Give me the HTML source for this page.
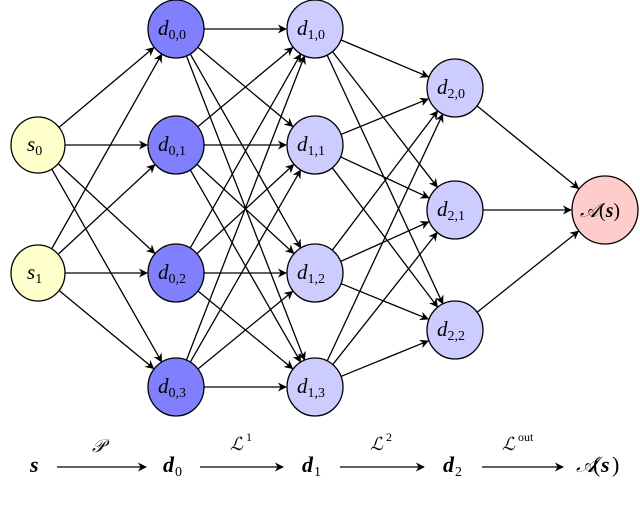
<!DOCTYPE html>
<html><head><meta charset="utf-8"><style>
html,body{margin:0;padding:0;background:#fff;width:640px;height:514px;overflow:hidden}
text{font-family:"Liberation Serif",serif;font-style:italic}
.n{font-style:normal}
</style></head><body>
<svg id="s" width="640" height="514" viewBox="0 0 640 514" xmlns="http://www.w3.org/2000/svg">
<defs><marker id="a" viewBox="0 0 10 10" refX="9" refY="5" markerWidth="9" markerHeight="9" markerUnits="userSpaceOnUse" orient="auto"><path d="M0,0 L10,5 L0,10 L3,5 Z" fill="#000"/></marker></defs>
<g id="e" stroke="#000" stroke-width="1.3" fill="none"></g>
<g id="n"></g>
<g font-size="22" fill="#000">
<text x="30" y="472" font-weight="bold">s</text>
<line x1="57" y1="467" x2="146" y2="467" stroke="#000" stroke-width="1.3" marker-end="url(#a)"/>
<text x="92" y="452" font-size="18">𝒫</text>
<text x="163" y="472" font-weight="bold">d</text><text x="175" y="476" font-size="14" class="n">0</text>
<line x1="200" y1="467" x2="283" y2="467" stroke="#000" stroke-width="1.3" marker-end="url(#a)"/>
<text x="230" y="450" font-size="18">ℒ</text><text x="246" y="441" font-size="12" class="n">1</text>
<text x="302" y="472" font-weight="bold">d</text><text x="314" y="476" font-size="14" class="n">1</text>
<line x1="340" y1="467" x2="424" y2="467" stroke="#000" stroke-width="1.3" marker-end="url(#a)"/>
<text x="370" y="450" font-size="18">ℒ</text><text x="386" y="441" font-size="12" class="n">2</text>
<text x="443" y="472" font-weight="bold">d</text><text x="455" y="476" font-size="14" class="n">2</text>
<line x1="482" y1="467" x2="563" y2="467" stroke="#000" stroke-width="1.3" marker-end="url(#a)"/>
<text x="502" y="450" font-size="18">ℒ</text><text x="518" y="441" font-size="12" class="n">out</text>
<text x="576" y="472">𝒜</text><text x="593" y="472" class="n">(</text><text x="601" y="472" font-weight="bold">s</text><text x="612" y="472" class="n">)</text>
</g>
</svg>
<script>
var N='http://www.w3.org/2000/svg';
var L=[
 [[38,145,'s','0'],[38,273,'s','1']],
 [[176,29,'d','0,0'],[176,145,'d','0,1'],[176,273,'d','0,2'],[176,387,'d','0,3']],
 [[315,29,'d','1,0'],[315,145,'d','1,1'],[315,273,'d','1,2'],[315,387,'d','1,3']],
 [[455,88,'d','2,0'],[455,210,'d','2,1'],[455,330,'d','2,2']],
 [[605,210,'A','']]];
var F=['#ffffcc','#8080ff','#ccccff','#ccccff','#ffcccc'];
var R=[27,28,28,28,33];
var e=document.getElementById('e'),n=document.getElementById('n');
for(var i=0;i<4;i++)for(var a of L[i])for(var b of L[i+1]){
 var dx=b[0]-a[0],dy=b[1]-a[1],d=Math.hypot(dx,dy);
 var l=document.createElementNS(N,'line');
 l.setAttribute('x1',a[0]+dx/d*R[i]);l.setAttribute('y1',a[1]+dy/d*R[i]);
 l.setAttribute('x2',b[0]-dx/d*(R[i+1]+1));l.setAttribute('y2',b[1]-dy/d*(R[i+1]+1));
 l.setAttribute('marker-end','url(#a)');e.appendChild(l);}
for(var i=0;i<5;i++)for(var a of L[i]){
 var c=document.createElementNS(N,'ellipse');
 c.setAttribute('cx',a[0]);c.setAttribute('cy',a[1]);c.setAttribute('rx',R[i]);c.setAttribute('ry',R[i]+1);
 c.setAttribute('fill',F[i]);c.setAttribute('stroke','#000');c.setAttribute('stroke-width','1.3');n.appendChild(c);
 var t=document.createElementNS(N,'text');
 if(i==4){t.setAttribute('x',a[0]-25);t.setAttribute('y',a[1]+7);t.setAttribute('font-size','20');
  t.innerHTML='𝒜<tspan class="n">(</tspan><tspan font-weight="bold">s</tspan><tspan class="n">)</tspan>';}
 else{t.setAttribute('x',a[0]-(i==0?11:18));t.setAttribute('y',a[1]+6);t.setAttribute('font-size','21');
  t.innerHTML=a[2]+'<tspan class="n" font-size="14" dy="4">'+a[3]+'</tspan>';}
 n.appendChild(t);}
</script>
</body></html>
